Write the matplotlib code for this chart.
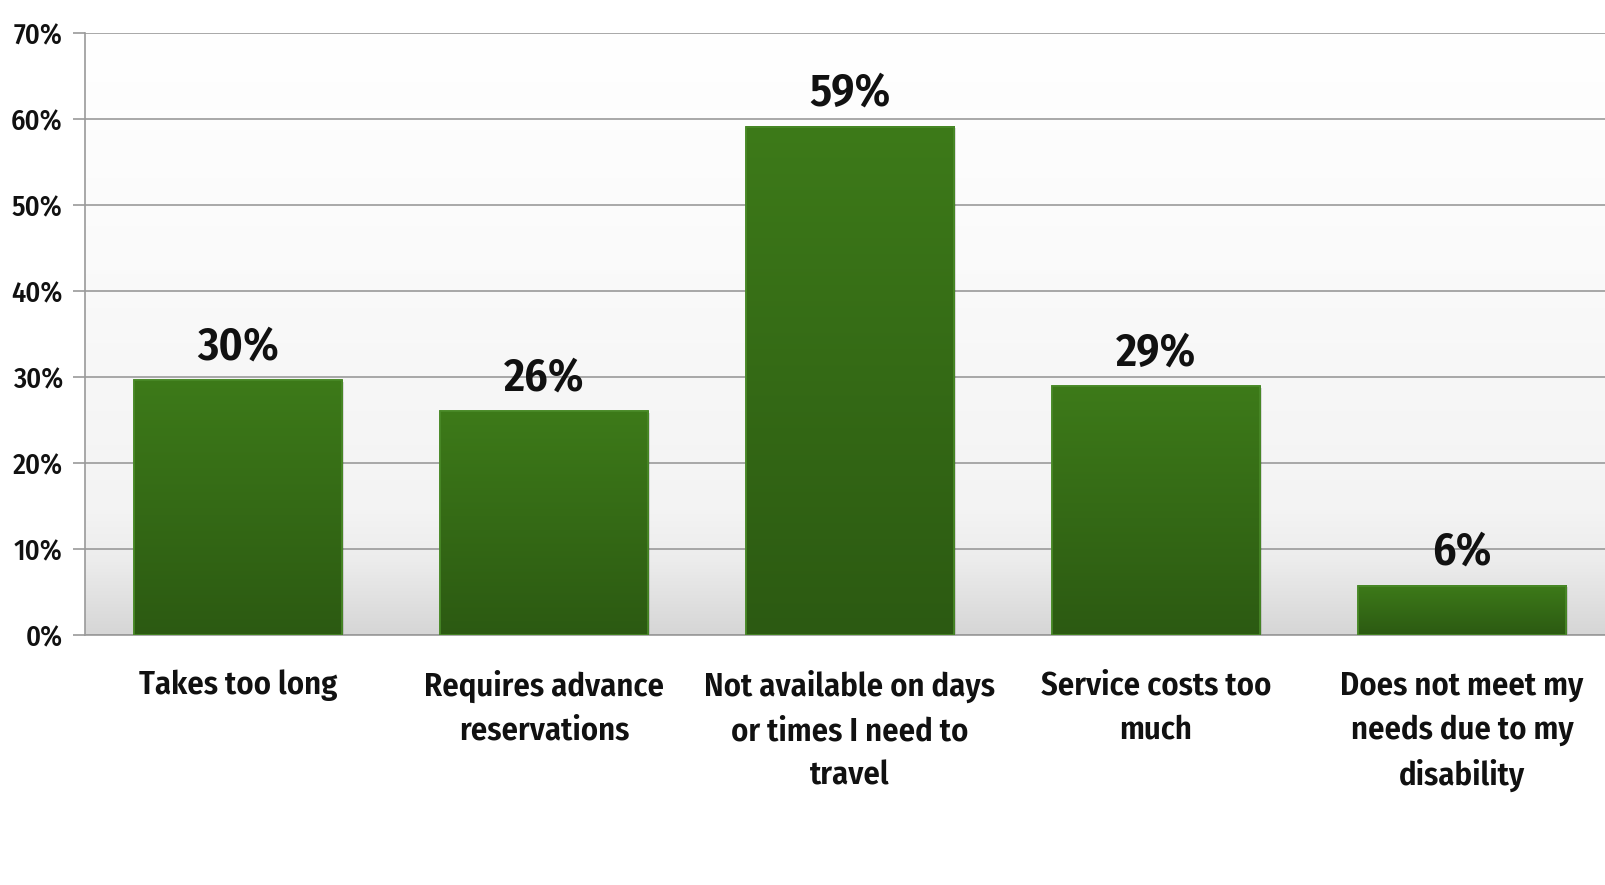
import numpy as np
import matplotlib
matplotlib.use("Agg")
import matplotlib.pyplot as plt
from matplotlib.colors import LinearSegmentedColormap

categories = ["Takes too long", "Requires advance\nreservations",
              "Not available on days\nor times I need to\ntravel",
              "Service costs too\nmuch", "Does not meet my\nneeds due to my\ndisability"]
values = [29.6, 26.0, 59.1, 28.9, 5.7]
value_labels = ["30%", "26%", "59%", "29%", "6%"]
yticks = [0, 10, 20, 30, 40, 50, 60, 70]

FAM = ['Fira Sans Condensed', 'PT Sans Narrow', 'Liberation Sans Narrow', 'DejaVu Sans']
plt.rcParams['font.family'] = FAM

fig = plt.figure(figsize=(16.06, 8.85), dpi=100)
ax = fig.add_axes([85/1606, 250/885, 1530/1606, 602/885])

# background gradient
bg = LinearSegmentedColormap.from_list("bg", [(0, "#d6d6d6"), (0.12, "#ececec"), (0.2, "#f3f3f3"), (0.6, "#fafafa"), (1, "#ffffff")])
grad = np.linspace(0, 1, 256).reshape(-1, 1)
ax.imshow(grad, cmap=bg, origin="lower", extent=[0, 1, 0, 1], aspect="auto",
          transform=ax.transAxes, zorder=0)

x = np.arange(len(categories))
bars = ax.bar(x, values, width=0.68, color="#38731a", edgecolor="#4a8a28", linewidth=1.2, zorder=3)
gcm = LinearSegmentedColormap.from_list("g", [(0, "#2c5a12"), (1, "#3d7a19")])
for b in bars:
    x0, y0 = b.get_x(), b.get_y()
    w, h = b.get_width(), b.get_height()
    ax.add_patch(plt.Rectangle((x0 + 0.006, 0), w, h - 0.15, color="#000000", alpha=0.12, zorder=2, lw=0))
    ax.imshow(grad, cmap=gcm, origin="lower", extent=[x0, x0 + w, y0, y0 + h],
              aspect="auto", zorder=3.5)
    ax.add_patch(plt.Rectangle((x0, y0), w, h, fill=False, edgecolor="#4a8a28", lw=1.2, zorder=4))

for xi, v, lab in zip(x, values, value_labels):
    ax.text(xi, v + 1.3, lab, ha="center", va="bottom", fontsize=33, fontweight=600, color="#111111", zorder=5)

ax.set_xlim(-0.5, len(categories) - 0.5)
ax.set_ylim(0, 70)
ax.set_yticks(yticks)
ax.set_yticklabels([f"{t}%" for t in yticks], fontsize=20.5, color="#111111", fontweight=500)
ax.set_xticks(x)
ax.set_xticklabels(categories, fontsize=23.5, fontweight=600, color="#111111", linespacing=1.5, va="top")
ax.tick_params(axis="x", length=0, pad=25)
ax.tick_params(axis="y", length=9, width=1.2, color="#9a9a9a", pad=7)
ax.yaxis.grid(True, color="#9a9a9a", linewidth=1.2, zorder=1)
ax.set_axisbelow(True)
for s in ["top", "right"]:
    ax.spines[s].set_visible(False)
for s in ["left", "bottom"]:
    ax.spines[s].set_color("#9a9a9a")
    ax.spines[s].set_linewidth(1.2)

fig.savefig("out.png", dpi=100, facecolor="white")
